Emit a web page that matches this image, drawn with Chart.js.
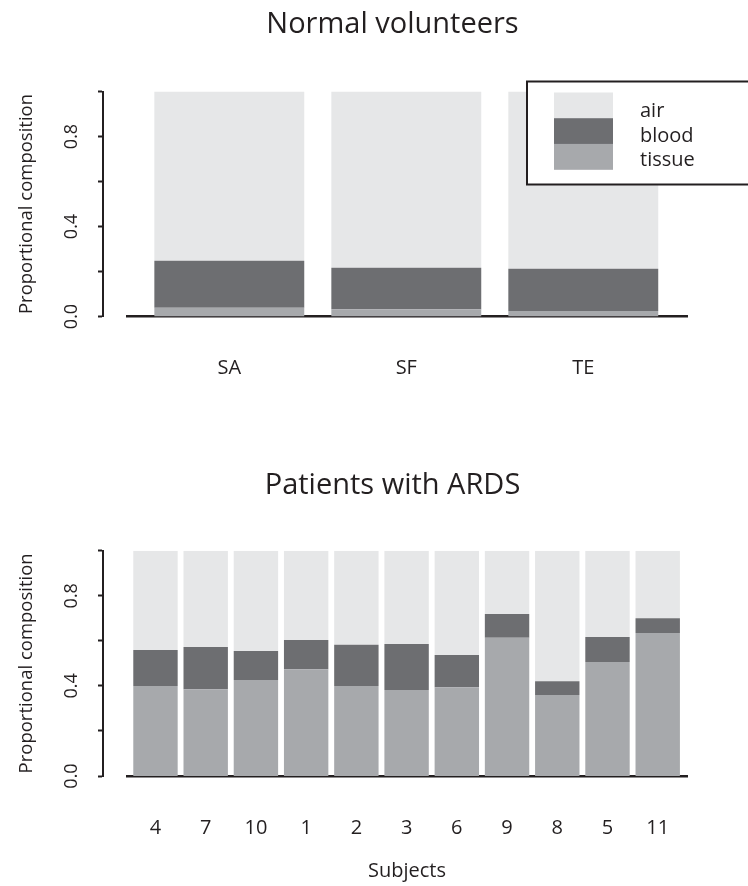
<!DOCTYPE html>
<html><head><meta charset="utf-8">
<script src="https://cdn.jsdelivr.net/npm/chart.js@4"></script>
<style>
html,body{margin:0;padding:0;background:#fff;}
.wrap{position:absolute;left:0;width:748px;}
</style></head><body>
<div class="wrap" style="top:0;height:430px"><canvas id="c1"></canvas></div>
<div class="wrap" style="top:430px;height:456px"><canvas id="c2"></canvas></div>
<script>
// ---- data ----
const normalCategories = ['SA', 'SF', 'TE'];
const normalTissue = [0.039, 0.032, 0.024];
const normalBlood  = [0.209, 0.185, 0.188];
const normalAir    = [0.752, 0.783, 0.788];

const ardsSubjects = ['4', '7', '10', '1', '2', '3', '6', '9', '8', '5', '11'];
const ardsTissue = [0.399, 0.385, 0.426, 0.474, 0.399, 0.382, 0.394, 0.614, 0.360, 0.506, 0.635];
const ardsBlood  = [0.160, 0.188, 0.129, 0.130, 0.184, 0.204, 0.143, 0.105, 0.060, 0.111, 0.065];
const ardsAir    = [0.441, 0.427, 0.445, 0.396, 0.417, 0.414, 0.463, 0.281, 0.580, 0.383, 0.300];

const seriesNames = ['tissue', 'blood', 'air'];
const yLabelValues = [0, 0.4, 0.8];

// ---- style ----
const INK = '#231f20';
const COLORS = {tissue: '#a7a9ac', blood: '#6d6e71', air: '#e6e7e8'};
Chart.defaults.font.family = "'Open Sans', 'Noto Sans', sans-serif";
Chart.defaults.color = INK;

function datasets(cats, tissue, blood, air, barPct) {
  const vals = [tissue, blood, air];
  return seriesNames.map((name, k) => ({
    label: name,
    data: cats.map((c, i) => ({x: i + 1, y: vals[k][i]})),
    backgroundColor: COLORS[name],
    borderWidth: 0,
    categoryPercentage: 1,
    barPercentage: barPct
  }));
}

const boxLegend = {
  id: 'boxLegend',
  afterDraw(chart) {
    const {ctx, chartArea} = chart;
    const left = chartArea.right - 160, top = chartArea.top - 10;
    const right = chart.width + 10, bottom = top + 103;
    ctx.save();
    ctx.fillStyle = '#fff';
    ctx.fillRect(left, top, right - left, bottom - top);
    ctx.lineWidth = 2;
    ctx.strokeStyle = INK;
    ctx.strokeRect(left, top, right - left, bottom - top);
    const items = chart.data.datasets.slice().reverse();
    ctx.font = "20px 'Open Sans', sans-serif";
    ctx.textBaseline = 'middle';
    ctx.textAlign = 'left';
    items.forEach((ds, i) => {
      ctx.fillStyle = ds.backgroundColor;
      ctx.fillRect(left + 27, top + 11 + i * 25.7, 59, 25.9);
      ctx.fillStyle = INK;
      ctx.fillText(ds.label, left + 113, top + 30 + i * 24.5);
    });
    ctx.restore();
  }
};

function spacer(position, width) {
  return {
    type: 'linear', position: position, min: 0, max: 1, weight: 0,
    ticks: {display: false}, grid: {display: false}, border: {display: false},
    afterFit: s => { s.width = width; }
  };
}

function buildOptions(cfg) {
  return {
    responsive: true, maintainAspectRatio: false, animation: false,
    layout: {padding: {left: 37, right: 0, top: 0, bottom: cfg.padBottom}},
    plugins: {
      legend: {display: false},
      tooltip: {enabled: false},
      title: {display: true, text: cfg.title, font: {size: 29, weight: 'normal'}, color: INK,
              padding: {top: cfg.titleTop, bottom: cfg.titleBottom}}
    },
    scales: {
      x: {
        type: 'linear', stacked: true, min: cfg.xMin, max: cfg.xMax, offset: false,
        afterBuildTicks: s => { s.ticks = cfg.cats.map((c, i) => ({value: i + 1})); },
        ticks: {callback: (v, i) => cfg.cats[i], autoSkip: false, maxRotation: 0, minRotation: 0,
                padding: 0, font: {size: 20}, color: INK},
        grid: {display: false, offset: false, drawTicks: true, tickLength: 40},
        border: {display: true, width: 2.5, color: INK},
        title: cfg.xTitle ? {display: true, text: cfg.xTitle, font: {size: 20}, color: INK,
                             padding: {top: 19, bottom: 0}} : {display: false}
      },
      y: Object.assign(spacer('left', 24), {stacked: true}),
      yRight: spacer('right', 61),
      yAxis: {
        type: 'linear', position: 'left', weight: 1, min: 0, max: 1,
        ticks: {
          stepSize: 0.2, minRotation: 90, maxRotation: 90, crossAlign: 'center', padding: 13,
          font: {size: 18}, color: INK,
          callback: v => { const r = Math.round(v * 10) / 10; return yLabelValues.includes(r) ? r.toFixed(1) : ''; }
        },
        grid: {display: true, drawOnChartArea: false, drawTicks: true, tickLength: 5, tickWidth: 2, tickColor: INK},
        border: {display: true, width: 2, color: INK},
        title: {display: true, text: 'Proportional composition', font: {size: 18.5}, color: INK,
                padding: {top: -21, bottom: 0}},
        afterFit: s => { s.width = 66; }
      }
    }
  };
}

new Chart(document.getElementById('c1'), {
  type: 'bar',
  data: {datasets: datasets(normalCategories, normalTissue, normalBlood, normalAir, 0.847)},
  options: buildOptions({title: 'Normal volunteers', cats: normalCategories, xMin: 0.422, xMax: 3.586,
                         titleTop: 7, titleBottom: 49.7, padBottom: 49.5}),
  plugins: [boxLegend]
});

new Chart(document.getElementById('c2'), {
  type: 'bar',
  data: {datasets: datasets(ardsSubjects, ardsTissue, ardsBlood, ardsAir, 0.884)},
  options: buildOptions({title: 'Patients with ARDS', cats: ardsSubjects, xMin: 0.433, xMax: 11.583,
                         titleTop: 38, titleBottom: 47.9, padBottom: 3, xTitle: 'Subjects'})
});
</script></body></html>
